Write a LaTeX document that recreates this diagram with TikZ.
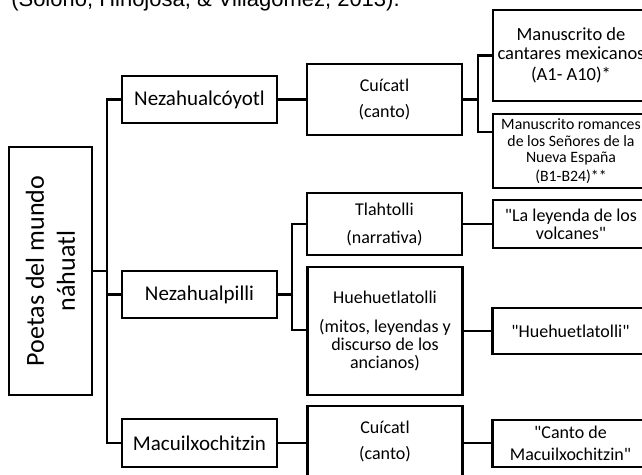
\documentclass[tikz,border=0pt]{standalone}
\usepackage{fontspec}
\setmainfont{Carlito}
\newfontfamily\arialfont{Liberation Sans}

\tikzset{every picture/.style={line width=2.5bp}}
\tikzset{
  box/.style={draw, rectangle, inner sep=0pt, align=center, font=\fontsize{18bp}{18bp}\selectfont},
  poet/.style={box, minimum width=155bp, minimum height=47bp, font=\fontsize{21bp}{21bp}\selectfont},
  genre/.style={box, minimum width=155bp},
  source/.style={box, minimum width=156bp},
}

\begin{document}
\begin{tikzpicture}[x=1bp,y=1bp,yscale=-1,xscale=1]
\useasboundingbox (0,0) rectangle (642,475);
\clip (0,0) rectangle (642,475);

% cut-off caption line
\node (cap) [anchor=base west, inner sep=0pt, font=\arialfont\fontsize{22bp}{22bp}\selectfont] at (10,6.5) {(Solorio, Hinojosa, \& Villagómez, 2013).};

% root
\node (root) [box, rotate=90, minimum width=248bp, minimum height=83bp, font=\fontsize{26bp}{31bp}\selectfont] at (50.5,271) {Poetas del mundo\\náhuatl};

% poets
\node (nezc) [poet] at (199.5,99.5) {Nezahualcóyotl};
\node (nezp) [poet] at (199.5,294.5) {Nezahualpilli};
\node (macu) [poet, minimum height=48bp] at (199.5,443) {Macuilxochitzin};

% genres
\node (cuic1) [genre, minimum height=71bp] at (384.5,99.5) {Cuícatl\\[8bp](canto)};
\node (tlah) [genre, minimum height=62bp] at (384.5,224) {Tlahtolli\\[10bp](narrativa)};
\node (hueh) [genre, minimum height=128bp] at (385,331) {Huehuetlatolli\\[11bp](mitos, leyendas y\\discurso de los\\ancianos)};
\node (cuic3) [genre, minimum height=71bp] at (385,441.5) {Cuícatl\\[8bp](canto)};

% sources
\node (mcant) [source, minimum height=91bp, font=\fontsize{18.5bp}{19bp}\selectfont] at (571,55.5) {Manuscrito de\\cantares mexicanos\\[2bp](A1- A10)*};
\node (mrom) [source, minimum height=74bp, font=\fontsize{15.8bp}{16.5bp}\selectfont] at (571,151) {Manuscrito romances\\de los Señores de la\\Nueva España\\[2bp](B1-B24)**};
\node (leyenda) [source, minimum height=48bp] at (571,224) {\textquotedbl La leyenda de los\\volcanes\textquotedbl};
\node (huehq) [source, minimum height=46bp] at (570.5,331) {\textquotedbl Huehuetlatolli\textquotedbl};
\node (cantom) [source, minimum height=47bp] at (570.5,443.5) {\textquotedbl Canto de\\[4bp]Macuilxochitzin\textquotedbl};

% branch points
\coordinate (t1) at (107,271);
\coordinate (b2) at (478,132);
\coordinate (b3) at (292,330);

% connectors
\draw (root.south) -- (t1);
\draw (nezc.west) -| (t1 |- macu.west) -- (macu.west);
\draw (nezp.west) -- (nezp.west -| t1);

\draw (nezc.east) -- (cuic1.west);
\draw (cuic1.east) -- (cuic1.east -| b2);
\draw (mcant.west) -| (b2) -- (b2 -| mrom.west);

\draw (nezp.east) -- (nezp.east -| b3);
\draw (tlah.west) -| (b3) -- (b3 -| hueh.west);
\draw (tlah.east) -- (leyenda.west);
\draw (hueh.east) -- (huehq.west);

\draw (macu.east) -- (macu.east -| cuic3.west);
\draw (cuic3.east |- macu.east) -- (cantom.west |- macu.east);

\end{tikzpicture}
\end{document}
